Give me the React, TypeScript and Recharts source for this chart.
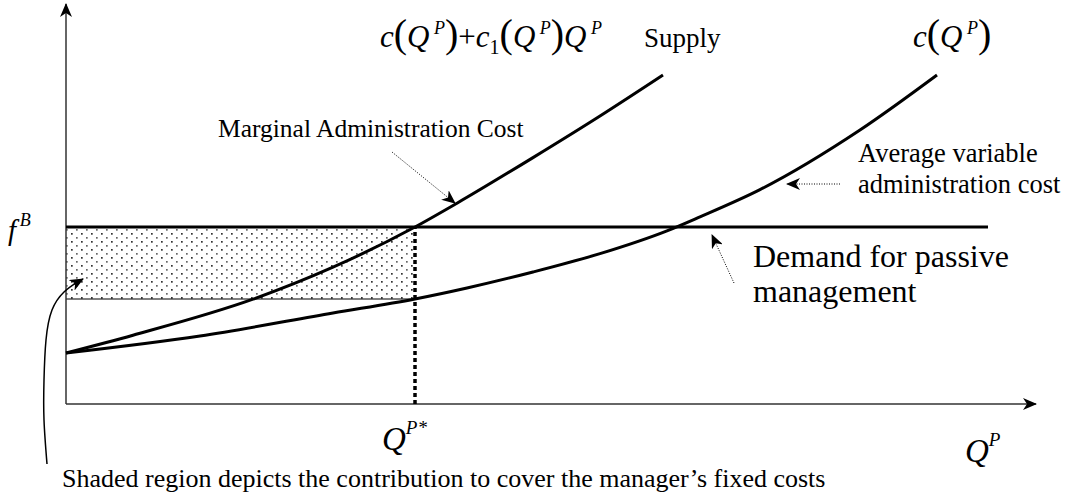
import React from "react";
import { ComposedChart, Line, XAxis, YAxis, ReferenceLine, ReferenceArea, ReferenceDot } from "recharts";

// quantity of passive management (Q^P) against fee / cost
const supplyQ = [0, 0.67, 1.87, 2.67, 3.49, 3.91, 4.67, 5.34, 5.97];
const supplyFee = [1.275, 1.72, 2.62, 3.42, 4.425, 5.02, 6.16, 7.2, 8.225];

const avgCostQ = [0, 1.34, 2.67, 3.49, 4.01, 4.67, 5.34, 6.01, 6.34, 6.94, 7.94, 8.71];
const avgCostFee = [1.275, 1.7, 2.275, 2.625, 2.9, 3.3, 3.76, 4.33, 4.68, 5.36, 6.85, 8.225];

const feeB = 4.425; // f^B, demand for passive management
const qStar = 3.49; // Q^{P*}
const avgCostAtQStar = 2.625;
const demandEndQ = 9.22;
const xAxisEnd = 9.7;
const yAxisEnd = 10.0;

// curved pointer from the caption up into the shaded area
const pointerQ = [-0.19, -0.22, -0.22, -0.2, -0.14, -0.02, 0.12];
const pointerFee = [-1.5, -0.4, 0.6, 1.6, 2.35, 2.8, 3.06];

const W = 1068;
const H = 499;
const SERIF = "'Liberation Serif', 'Times New Roman', serif";

const toPoints = (qs: number[], vs: number[]) => qs.map((q, i) => ({ q, v: vs[i] }));
const supplyData = toPoints(supplyQ, supplyFee);
const avgCostData = toPoints(avgCostQ, avgCostFee);
const pointerData = toPoints(pointerQ, pointerFee);

const it = { fontStyle: "italic" as const };

const SupplyFormula = ({ cx, cy }: any) => (
  <text x={cx} y={cy} fontFamily={SERIF} fontSize={31} fill="#000">
    <tspan {...it}>c</tspan>
    <tspan fontSize={40}>(</tspan>
    <tspan {...it}>Q</tspan>
    <tspan {...it} fontSize={18} dy={-13}> P</tspan>
    <tspan fontSize={40} dy={13}>)</tspan>
    <tspan>+</tspan>
    <tspan {...it}>c</tspan>
    <tspan fontSize={20} dy={7}>1</tspan>
    <tspan fontSize={40} dy={-7}>(</tspan>
    <tspan {...it}>Q</tspan>
    <tspan {...it} fontSize={18} dy={-13}> P</tspan>
    <tspan fontSize={40} dy={13}>)</tspan>
    <tspan {...it}>Q</tspan>
    <tspan {...it} fontSize={18} dy={-13}> P</tspan>
  </text>
);

const CostFormula = ({ cx, cy }: any) => (
  <text x={cx} y={cy} fontFamily={SERIF} fontSize={31} fill="#000">
    <tspan {...it}>c</tspan>
    <tspan fontSize={40}>(</tspan>
    <tspan {...it}>Q</tspan>
    <tspan {...it} fontSize={18} dy={-13}> P</tspan>
    <tspan fontSize={40} dy={13}>)</tspan>
  </text>
);

const Sup = ({ cx, cy, base, sup, size = 32, supSize, rise }: any) => (
  <text x={cx} y={cy} fontFamily={SERIF} fontSize={size} fill="#000">
    <tspan {...it}>{base}</tspan>
    <tspan {...it} fontSize={supSize ?? size * 0.56} dy={-(rise ?? size * 0.5)}>{sup}</tspan>
  </text>
);

const Lines = ({ cx, cy, lines, size, gap }: any) => (
  <text x={cx} y={cy} fontFamily={SERIF} fontSize={size} fill="#000">
    {lines.map((l: string, i: number) => (
      <tspan key={i} x={cx} dy={i === 0 ? 0 : gap}>{l}</tspan>
    ))}
  </text>
);

const label = (q: number, v: number, shape: any) => (
  <ReferenceDot x={q} y={v} r={0} shape={shape} />
);

const pointer = (from: { x: number; y: number }, to: { x: number; y: number }, dashed = true) => (
  <ReferenceLine segment={[from, to]} stroke="#000" strokeWidth={dashed ? 1 : 1.5}
    strokeDasharray={dashed ? "1 1.5" : undefined} markerEnd="url(#noteHead)" />
);

export default function App() {
  return (
    <div style={{ position: "absolute", left: 0, top: 0, width: W, height: H, background: "#fff" }}>
      <ComposedChart width={W} height={H} margin={{ top: 0, right: 0, bottom: 0, left: 0 }}>
        <defs>
          <marker id="axisHead" viewBox="0 0 14 12" refX="13" refY="6" markerWidth="14" markerHeight="12"
            markerUnits="userSpaceOnUse" orient="auto">
            <path d="M0,0 L14,6 L0,12 L4,6 Z" fill="#000" />
          </marker>
          <marker id="noteHead" viewBox="0 0 14 12" refX="13" refY="6" markerWidth="14" markerHeight="12"
            markerUnits="userSpaceOnUse" orient="auto">
            <path d="M0,0 L14,6 L0,12 L4,6 Z" fill="#000" />
          </marker>
          <pattern id="dots" width="10" height="8" patternUnits="userSpaceOnUse">
            <rect x="1" y="1" width="1.7" height="1.7" fill="#333" />
            <rect x="6" y="5" width="1.7" height="1.7" fill="#666" />
          </pattern>
        </defs>
        <XAxis type="number" dataKey="q" domain={[-0.66, 10.02]} allowDataOverflow hide />
        <YAxis type="number" domain={[-2.375, 10.1]} allowDataOverflow hide />

        <ReferenceArea x1={0} x2={qStar} y1={avgCostAtQStar} y2={feeB} fill="url(#dots)" fillOpacity={1}
          stroke="none" />
        <ReferenceLine segment={[{ x: 0, y: avgCostAtQStar }, { x: qStar, y: avgCostAtQStar }]} stroke="#000"
          strokeWidth={1} />

        {/* axes */}
        <ReferenceLine segment={[{ x: 0, y: 0 }, { x: 0, y: yAxisEnd }]} stroke="#333" strokeWidth={1.5}
          markerEnd="url(#axisHead)" />
        <ReferenceLine segment={[{ x: 0, y: 0 }, { x: xAxisEnd, y: 0 }]} stroke="#333" strokeWidth={1.5}
          markerEnd="url(#axisHead)" />

        <ReferenceLine segment={[{ x: qStar, y: 0 }, { x: qStar, y: feeB }]} stroke="#000" strokeWidth={3.5}
          strokeDasharray="4 3" />
        <ReferenceLine segment={[{ x: 0, y: feeB }, { x: demandEndQ, y: feeB }]} stroke="#000" strokeWidth={3} />

        <Line data={supplyData} dataKey="v" type="monotone" stroke="#000" strokeWidth={3} dot={false}
          activeDot={false} isAnimationActive={false} />
        <Line data={avgCostData} dataKey="v" type="monotone" stroke="#000" strokeWidth={3} dot={false}
          activeDot={false} isAnimationActive={false} />
        <Line data={pointerData} dataKey="v" type="natural" stroke="#000" strokeWidth={1.5} dot={false}
          activeDot={false} isAnimationActive={false} />
        {pointer({ x: 0.08, y: 3.0 }, { x: 0.17, y: 3.125 }, false)}

        {/* dotted pointers */}
        {pointer({ x: 3.26, y: 6.3 }, { x: 3.89, y: 5.02 })}
        {pointer({ x: 7.74, y: 5.5 }, { x: 7.21, y: 5.5 })}
        {pointer({ x: 6.68, y: 3.025 }, { x: 6.46, y: 4.225 })}

        {/* text */}
        {label(3.14, 8.925, (p: any) => <SupplyFormula {...p} />)}
        {label(5.78, 8.925, (p: any) => <Lines {...p} lines={["Supply"]} size={27} gap={0} />)}
        {label(8.47, 8.925, (p: any) => <CostFormula {...p} />)}
        {label(1.52, 6.675, (p: any) => <Lines {...p} lines={["Marginal Administration Cost"]} size={25.5} gap={0} />)}
        {label(7.92, 6.05, (p: any) => <Lines {...p} lines={["Average variable", "administration cost"]} size={26.5} gap={31} />)}
        {label(6.87, 3.425, (p: any) => <Lines {...p} lines={["Demand for passive", "management"]} size={32} gap={35} />)}
        {label(-0.58, 4.1, (p: any) => <Sup {...p} base="f" sup={"\u2009B"} size={29} supSize={18} rise={14} />)}
        {label(3.16, -1.15, (p: any) => <Sup {...p} base="Q" sup="P*" size={33} supSize={19} rise={16} />)}
        {label(8.99, -1.45, (p: any) => <Sup {...p} base="Q" sup="P" size={33} supSize={19} rise={16} />)}
        {label(-0.04, -2.075, (p: any) => (
          <Lines {...p} lines={["Shaded region depicts the contribution to cover the manager\u2019s fixed costs"]}
            size={26} gap={0} />
        ))}
      </ComposedChart>
    </div>
  );
}
